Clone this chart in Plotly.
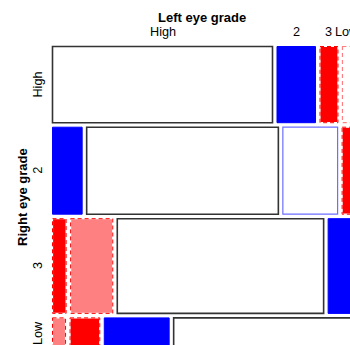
import plotly.graph_objects as go

# Data: VisualAcuity (women) — rows: Right eye grade, columns: Left eye grade
left_grades = ["High", "2", "3", "Low"]
right_grades = ["High", "2", "3", "Low"]
row_high = [1520, 266, 124, 66]
row_2 = [234, 1512, 432, 78]
row_3 = [117, 362, 1772, 205]
row_low = [36, 82, 179, 492]
counts = [row_high, row_2, row_3, row_low]

# Shading kind per cell (style)
shade = [
    ["diag", "pos", "neg", "negw"],
    ["pos", "diag", "posw", "neg"],
    ["neg", "negm", "diag", "pos"],
    ["negm", "neg", "pos", "diag"],
]
styles = {
    "diag": dict(fill="white", line="#333333", dash="solid", width=1.6),
    "pos": dict(fill="#0000FF", line="#0000FF", dash="solid", width=1),
    "posw": dict(fill="white", line="#6E6EFF", dash="solid", width=1.2),
    "neg": dict(fill="#FF0000", line="#FF0000", dash="4px,3px", width=1),
    "negm": dict(fill="#FF8080", line="#FF0000", dash="4px,3px", width=1),
    "negw": dict(fill="white", line="#FF8080", dash="4px,3px", width=1.2),
}

W_PX, H_PX = 350, 345
left_px, top_px = 52.5, 46.5
sx, sy = 286.0, 288.3   # pixels per unit proportion
gx, gy = 4.5 / sx, 4.5 / sy

total = sum(sum(r) for r in counts)
fig = go.Figure()
shapes = []
annotations = []

y = 0.0
row_centers = []
first_row_centers = []
for i, row in enumerate(counts):
    rt = sum(row)
    h = rt / total
    x = 0.0
    for j, c in enumerate(row):
        w = c / rt
        st = styles[shade[i][j]]
        if st["dash"] != "solid":
            shapes.append(dict(type="rect", xref="x", yref="y", x0=x, x1=x + w, y0=y, y1=y + h,
                               fillcolor=st["fill"], line=dict(color="white", width=1.2), layer="above"))
            shapes.append(dict(type="rect", xref="x", yref="y", x0=x, x1=x + w, y0=y, y1=y + h,
                               fillcolor="rgba(0,0,0,0)",
                               line=dict(color=st["line"], width=st["width"], dash=st["dash"]), layer="above"))
        else:
            shapes.append(dict(type="rect", xref="x", yref="y", x0=x, x1=x + w, y0=y, y1=y + h,
                               fillcolor=st["fill"],
                               line=dict(color=st["line"], width=st["width"]), layer="above"))
        if i == 0:
            first_row_centers.append(x + w / 2)
        x += w + gx
    row_centers.append(y + h / 2)
    y += h + gy

mosaic_w = 1 + 3 * gx
font_lab = dict(family="Liberation Sans, Arial, sans-serif", size=12.7, color="black")
font_tit = dict(family="Liberation Sans, Arial, sans-serif", size=13, color="black")

lab_off_x = 14.5 / sx
lab_off_y = 14.5 / sy
tit_off_x = 30.0 / sx
tit_off_y = 29.5 / sy

for lab, cx in zip(left_grades, first_row_centers):
    annotations.append(dict(x=cx, y=-lab_off_y, xref="x", yref="y", text=lab, showarrow=False,
                            font=font_lab, xanchor="center", yanchor="middle"))
for lab, cy in zip(right_grades, row_centers):
    annotations.append(dict(x=-lab_off_x, y=cy, xref="x", yref="y", text=lab, showarrow=False,
                            font=font_lab, textangle=-90, xanchor="center", yanchor="middle"))
annotations.append(dict(x=mosaic_w / 2, y=-tit_off_y, xref="x", yref="y", text="<b>Left eye grade</b>",
                        showarrow=False, font=font_tit, xanchor="center", yanchor="middle"))
annotations.append(dict(x=-tit_off_x, y=(1 + 3 * gy) / 2, xref="x", yref="y", text="<b>Right eye grade</b>",
                        showarrow=False, font=font_tit, textangle=-90, xanchor="center", yanchor="middle"))

fig.update_layout(
    width=W_PX, height=H_PX,
    margin=dict(l=0, r=0, t=0, b=0),
    paper_bgcolor="white", plot_bgcolor="white",
    shapes=shapes, annotations=annotations,
    showlegend=False,
    xaxis=dict(range=[-left_px / sx, (W_PX - left_px) / sx], visible=False, fixedrange=True),
    yaxis=dict(range=[(H_PX - top_px) / sy, -top_px / sy], visible=False, fixedrange=True),
)
fig.write_html("out.html")
